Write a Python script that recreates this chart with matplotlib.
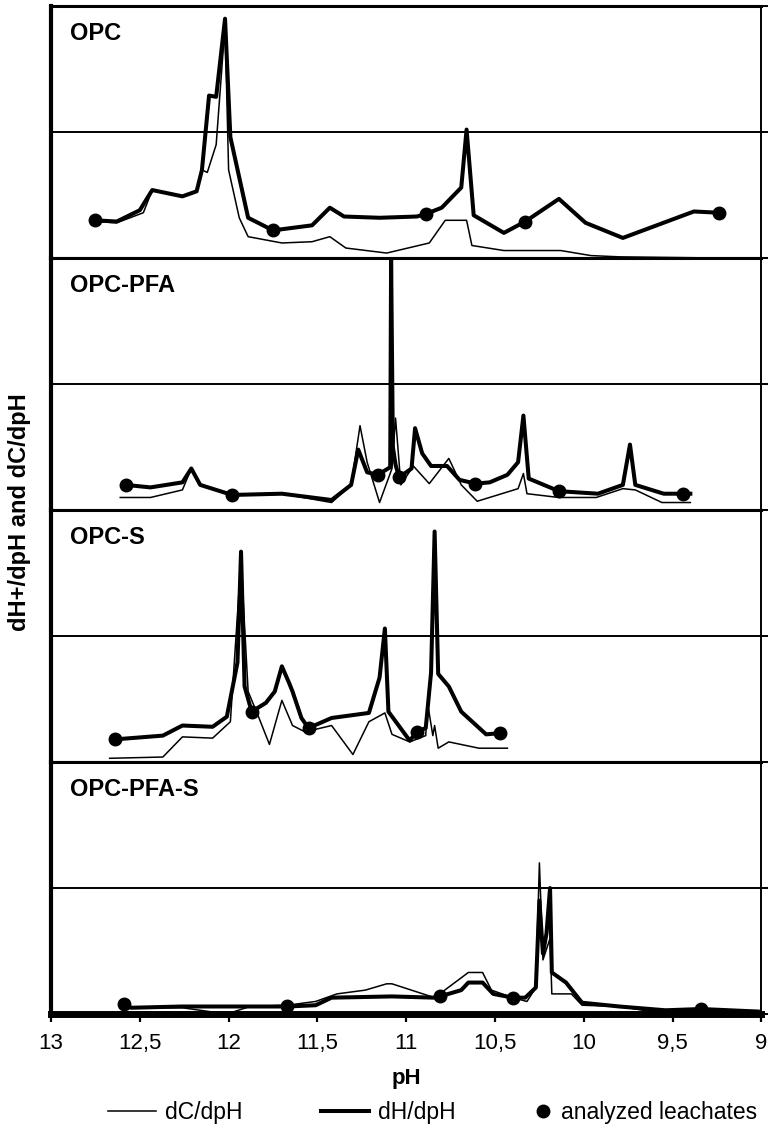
"""
Titration derivative curves (dH/dpH and dC/dpH) for four binder systems.
"""

from __future__ import annotations

import matplotlib

matplotlib.use("Agg")
import matplotlib.pyplot as plt
from matplotlib.lines import Line2D

plt.rcParams["font.family"] = ["Liberation Sans", "DejaVu Sans"]

panel_names = ["OPC", "OPC-PFA", "OPC-S", "OPC-PFA-S"]

# --- OPC ---
opc_dh_ph = [12.75, 12.63, 12.50, 12.43, 12.26, 12.18, 12.15, 12.11, 12.07, 12.02, 11.99,
             11.89, 11.75, 11.53, 11.43, 11.35, 11.15, 10.94, 10.89, 10.80, 10.69, 10.66,
             10.62, 10.45, 10.33, 10.14, 9.99, 9.78, 9.38, 9.24]
opc_dh = [0.30, 0.29, 0.38, 0.54, 0.49, 0.53, 0.70, 1.29, 1.28, 1.90, 0.96,
          0.32, 0.22, 0.26, 0.40, 0.33, 0.32, 0.33, 0.35, 0.40, 0.56, 1.02,
          0.34, 0.20, 0.29, 0.47, 0.28, 0.16, 0.37, 0.36]
opc_dc_ph = [12.75, 12.63, 12.48, 12.43, 12.26, 12.18, 12.15, 12.12, 12.07, 12.02, 12.00,
             11.94, 11.89, 11.70, 11.53, 11.43, 11.34, 11.11, 10.87, 10.78, 10.66, 10.63,
             10.45, 10.13, 9.96, 9.80, 9.20]
opc_dc = [0.29, 0.28, 0.36, 0.54, 0.49, 0.53, 0.70, 0.68, 0.90, 1.85, 0.70,
          0.32, 0.17, 0.12, 0.13, 0.17, 0.08, 0.04, 0.12, 0.30, 0.30, 0.10,
          0.06, 0.06, 0.02, 0.01, 0.00]
opc_dots_ph = [12.75, 11.75, 10.89, 10.33, 9.24]
opc_dots = [0.30, 0.22, 0.35, 0.29, 0.36]

# --- OPC-PFA ---
pfa_dh_ph = [12.58, 12.44, 12.26, 12.21, 12.16, 11.98, 11.70, 11.42, 11.31, 11.27, 11.22,
             11.16, 11.09, 11.085, 11.075, 11.06, 11.04, 10.97, 10.95, 10.91, 10.86, 10.77,
             10.70, 10.61, 10.53, 10.43, 10.37, 10.34, 10.31, 10.14, 9.92, 9.78, 9.74,
             9.71, 9.55, 9.44, 9.40]
pfa_dh = [0.20, 0.18, 0.22, 0.33, 0.20, 0.12, 0.13, 0.08, 0.20, 0.48, 0.30,
          0.28, 0.34, 2.00, 0.50, 0.36, 0.26, 0.33, 0.65, 0.45, 0.35, 0.35,
          0.24, 0.21, 0.22, 0.28, 0.38, 0.75, 0.25, 0.15, 0.13, 0.20, 0.52,
          0.20, 0.13, 0.13, 0.13]
pfa_dc_ph = [12.61, 12.44, 12.26, 12.21, 12.16, 11.98, 11.70, 11.42, 11.31, 11.26, 11.22,
             11.15, 11.08, 11.06, 11.03, 10.96, 10.87, 10.76, 10.69, 10.60, 10.37, 10.34,
             10.32, 10.14, 9.93, 9.78, 9.71, 9.56, 9.40]
pfa_dc = [0.10, 0.10, 0.16, 0.33, 0.20, 0.12, 0.13, 0.06, 0.20, 0.67, 0.38,
          0.06, 0.33, 0.73, 0.20, 0.35, 0.21, 0.41, 0.20, 0.07, 0.17, 0.29,
          0.13, 0.10, 0.10, 0.17, 0.16, 0.06, 0.06]
pfa_dots_ph = [12.58, 11.98, 11.16, 11.04, 10.61, 10.14, 9.44]
pfa_dots = [0.20, 0.12, 0.28, 0.26, 0.21, 0.15, 0.13]

# --- OPC-S ---
s_dh_ph = [12.64, 12.37, 12.26, 12.09, 12.01, 11.95, 11.93, 11.91, 11.87, 11.79, 11.74,
           11.70, 11.66, 11.64, 11.59, 11.55, 11.42, 11.21, 11.15, 11.12, 11.10, 10.98,
           10.94, 10.89, 10.86, 10.84, 10.82, 10.76, 10.69, 10.55, 10.47]
s_dh = [0.18, 0.21, 0.29, 0.28, 0.36, 0.79, 1.67, 0.60, 0.40, 0.47, 0.56,
        0.76, 0.63, 0.56, 0.35, 0.27, 0.35, 0.39, 0.67, 1.06, 0.40, 0.17,
        0.24, 0.27, 0.71, 1.83, 0.70, 0.60, 0.40, 0.22, 0.23]
s_dc_ph = [12.67, 12.37, 12.26, 12.09, 11.99, 11.93, 11.89, 11.84, 11.77, 11.70, 11.64,
           11.57, 11.42, 11.30, 11.21, 11.12, 11.08, 10.98, 10.89, 10.88, 10.85, 10.84,
           10.82, 10.76, 10.59, 10.43]
s_dc = [0.03, 0.04, 0.20, 0.19, 0.32, 1.60, 0.56, 0.39, 0.14, 0.49, 0.29,
        0.24, 0.29, 0.06, 0.32, 0.39, 0.22, 0.16, 0.21, 0.47, 0.21, 0.29,
        0.11, 0.16, 0.11, 0.11]
s_dots_ph = [12.64, 11.87, 11.55, 10.94, 10.47]
s_dots = [0.18, 0.40, 0.27, 0.24, 0.23]

# --- OPC-PFA-S ---
pfas_dh_ph = [12.59, 12.55, 12.26, 11.67, 11.51, 11.42, 11.08, 10.84, 10.81, 10.69, 10.65,
              10.57, 10.51, 10.40, 10.33, 10.27, 10.25, 10.23, 10.21, 10.19, 10.18, 10.10,
              10.01, 9.80, 9.54, 9.34, 9.02]
pfas_dh = [0.08, 0.05, 0.06, 0.06, 0.07, 0.13, 0.14, 0.13, 0.14, 0.19, 0.25,
           0.25, 0.16, 0.13, 0.13, 0.21, 0.90, 0.48, 0.64, 1.00, 0.33, 0.25,
           0.09, 0.06, 0.03, 0.04, 0.02]
pfas_dc_ph = [12.59, 12.26, 12.01, 11.88, 11.67, 11.51, 11.39, 11.23, 11.11, 11.08, 10.84,
              10.65, 10.57, 10.52, 10.40, 10.32, 10.27, 10.25, 10.23, 10.19, 10.18, 10.07,
              10.01, 9.80, 9.62, 9.02]
pfas_dc = [0.05, 0.05, 0.00, 0.06, 0.07, 0.10, 0.16, 0.19, 0.24, 0.24, 0.13,
           0.33, 0.33, 0.19, 0.13, 0.10, 0.21, 1.20, 0.43, 0.60, 0.16, 0.16,
           0.07, 0.06, 0.02, 0.00]
pfas_dots_ph = [12.59, 11.67, 10.81, 10.40, 9.34]
pfas_dots = [0.08, 0.06, 0.14, 0.13, 0.04]

ph_ticks = [13, 12.5, 12, 11.5, 11, 10.5, 10, 9.5, 9]
ph_tick_labels = ["13", "12,5", "12", "11,5", "11", "10,5", "10", "9,5", "9"]

legend_labels = ["dC/dpH", "dH/dpH", "analyzed leachates"]

THIN = 1.1
THICK = 2.9
DOT = 9


def draw_panel(ax, name, dh_ph, dh, dc_ph, dc, dots_ph, dots, is_bottom):
    ax.axhline(1.0, color="black", linewidth=1.4, zorder=1)
    ax.plot(dc_ph, dc, color="black", linewidth=THIN, zorder=2)
    ax.plot(dh_ph, dh, color="black", linewidth=THICK, zorder=3)
    ax.plot(dots_ph, dots, linestyle="none", marker="o", markersize=DOT,
            color="black", zorder=4)

    ax.set_xlim(13, 9)
    ax.set_ylim(0, 2)

    ax.yaxis.tick_right()
    ax.set_yticks([0, 1, 2])
    ax.set_yticklabels([])
    ax.tick_params(axis="y", direction="out", length=6, width=1.4, color="black")

    ax.spines["left"].set_linewidth(3.0)
    ax.spines["right"].set_linewidth(1.4)
    ax.spines["top"].set_linewidth(2.2)
    ax.spines["bottom"].set_linewidth(2.2)

    ax.text(0.027, 0.89, name, transform=ax.transAxes, fontsize=17,
            fontweight="bold", ha="left", va="center")

    if is_bottom:
        ax.spines["bottom"].set_linewidth(5.0)
        ax.set_xticks(ph_ticks)
        ax.set_xticklabels(ph_tick_labels, fontsize=16)
        ax.tick_params(axis="x", direction="out", length=6, width=1.6, pad=8)
        ax.set_xlabel("pH", fontsize=16, fontweight="bold", labelpad=10)
    else:
        ax.set_xticks([])


def main() -> None:
    fig = plt.figure(figsize=(7.68, 11.31), dpi=100)

    left = 0.0664
    width = 0.925
    height = 0.2228
    bottom0 = 0.1034

    series = [
        (opc_dh_ph, opc_dh, opc_dc_ph, opc_dc, opc_dots_ph, opc_dots),
        (pfa_dh_ph, pfa_dh, pfa_dc_ph, pfa_dc, pfa_dots_ph, pfa_dots),
        (s_dh_ph, s_dh, s_dc_ph, s_dc, s_dots_ph, s_dots),
        (pfas_dh_ph, pfas_dh, pfas_dc_ph, pfas_dc, pfas_dots_ph, pfas_dots),
    ]

    for i, (name, data) in enumerate(zip(panel_names, series)):
        bottom = bottom0 + (3 - i) * height
        ax = fig.add_axes([left, bottom, width, height])
        draw_panel(ax, name, *data, is_bottom=(i == 3))

    fig.text(0.026, 0.547, "dH+/dpH and dC/dpH", rotation=90, fontsize=17,
             fontweight="bold", ha="center", va="center")

    # legend: three separate entries spaced like the original
    handles = [
        Line2D([], [], color="black", linewidth=THIN),
        Line2D([], [], color="black", linewidth=THICK),
        Line2D([], [], color="black", linestyle="none", marker="o", markersize=DOT),
    ]
    anchors = [0.140, 0.418, 0.695]
    handle_lengths = [2.1, 2.1, 0.8]
    for handle, label, x0, hl in zip(handles, legend_labels, anchors, handle_lengths):
        fig.legend([handle], [label], loc="center left",
                   bbox_to_anchor=(x0, 0.016), frameon=False, fontsize=16.5,
                   handlelength=hl, handletextpad=0.4, borderpad=0,
                   borderaxespad=0)

    fig.savefig("out.png", dpi=100)
    plt.close(fig)


if __name__ == "__main__":
    main()
